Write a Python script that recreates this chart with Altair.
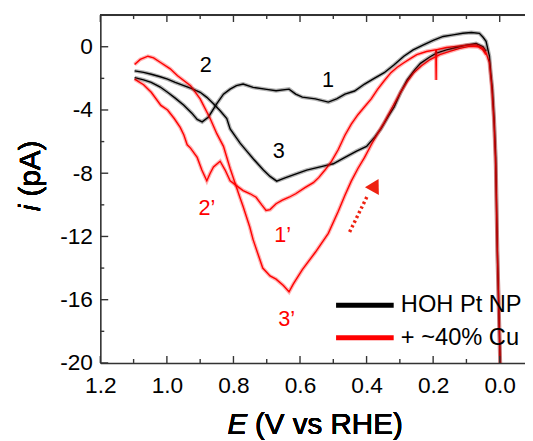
import altair as alt
import pandas as pd

# ---------------- data ----------------
SERIES = ["HOH Pt NP", "+ ~40% Cu"]
COLORS = ["#000000", "#ff0000"]

# black loop, branch through minimum "3"
blk_a_E = [1.097, 1.07, 1.047, 1.02, 0.998, 0.975, 0.949, 0.925, 0.90, 0.88, 0.86, 0.84, 0.82, 0.81, 0.78, 0.76,
           0.74, 0.71, 0.69, 0.67, 0.645, 0.62, 0.58, 0.53, 0.50, 0.465, 0.43, 0.40, 0.375, 0.357, 0.335,
           0.317, 0.298, 0.278, 0.255, 0.238, 0.21, 0.19, 0.16, 0.13, 0.10, 0.071, 0.05, 0.041]
blk_a_I = [-1.53, -1.62, -1.74, -1.9, -2.05, -2.25, -2.46, -2.65, -2.88, -3.2, -3.6, -4.05, -4.54, -5.2, -6.1, -6.6,
           -7.1, -7.8, -8.2, -8.5, -8.3, -8.1, -7.8, -7.55, -7.4, -7.0, -6.6, -6.3, -5.7, -5.2, -4.4,
           -3.8, -2.9, -2.1, -1.45, -1.05, -0.65, -0.4, -0.2, -0.05, 0.1, 0.2, 0.0, -0.3]

# black loop, branch through dip "2" and plateau "1", ending in the cathodic drop
blk_b_E = [1.097, 1.07, 1.047, 1.02, 0.998, 0.975, 0.949, 0.925, 0.909, 0.894, 0.875, 0.85, 0.83, 0.81, 0.791,
           0.771, 0.741, 0.70, 0.672, 0.633, 0.613, 0.593, 0.554, 0.515, 0.49, 0.465, 0.436, 0.406, 0.377,
           0.347, 0.318, 0.288, 0.26, 0.229, 0.20, 0.17, 0.14, 0.111, 0.085, 0.061, 0.05, 0.041, 0.031,
           0.027, 0.022, 0.017, 0.012, 0.007, -0.002]
blk_b_I = [-1.95, -2.1, -2.26, -2.55, -2.88, -3.25, -3.7, -4.2, -4.6, -4.75, -4.44, -3.6, -3.0, -2.68, -2.46,
           -2.36, -2.57, -2.7, -2.78, -2.68, -3.0, -3.19, -3.3, -3.5, -3.3, -3.0, -2.8, -2.36, -2.0,
           -1.64, -1.15, -0.6, -0.2, 0.12, 0.4, 0.65, 0.75, 0.85, 0.9, 0.85, 0.6, 0.34, -0.6,
           -1.64, -2.68, -4.5, -7.0, -13.0, -20.5]

# red loop, branch through minimum "3'"
red_c_E = [1.097, 1.08, 1.057, 1.04, 1.018, 0.99, 0.968, 0.929, 0.90, 0.87, 0.85, 0.83, 0.81, 0.781, 0.771,
           0.751, 0.741, 0.712, 0.69, 0.672, 0.65, 0.633, 0.62, 0.593, 0.554, 0.515, 0.485, 0.465, 0.446,
           0.426, 0.406, 0.386, 0.367, 0.347, 0.327, 0.298, 0.278, 0.258, 0.235, 0.209, 0.18, 0.15, 0.12,
           0.09, 0.065, 0.051, 0.041]
red_c_I = [-1.12, -0.8, -0.6, -0.7, -1.01, -1.4, -1.84, -2.46, -3.3, -4.54, -5.5, -6.3, -7.7, -9.5, -10.1,
           -11.4, -12.2, -14.0, -14.5, -14.7, -15.1, -15.5, -15.0, -14.1, -13.0, -11.8, -10.4, -9.4, -8.5,
           -7.7, -7.0, -6.2, -5.5, -4.8, -4.0, -2.88, -2.2, -1.64, -1.2, -0.81, -0.5, -0.29, -0.1,
           0.02, 0.0, -0.19, -0.5]

# red loop, branch through "2'" and "1'", ending in the cathodic drop
red_d_E = [1.097, 1.07, 1.047, 1.018, 0.998, 0.978, 0.96, 0.949, 0.939, 0.929, 0.909, 0.895, 0.88, 0.87,
           0.86, 0.84, 0.825, 0.81, 0.79, 0.771, 0.75, 0.732, 0.715, 0.702, 0.69, 0.672, 0.653, 0.633,
           0.613, 0.584, 0.56, 0.544, 0.525, 0.505, 0.485, 0.465, 0.446, 0.426, 0.406, 0.386, 0.367,
           0.347, 0.327, 0.308, 0.288, 0.265, 0.249, 0.22, 0.192, 0.191, 0.190, 0.16, 0.13, 0.10, 0.071,
           0.05, 0.041, 0.031, 0.024, 0.017, 0.012, 0.007, -0.002]
red_d_I = [-2.05, -2.4, -2.88, -3.71, -4.0, -4.54, -5.1, -5.58, -6.2, -6.41, -7.0, -7.8, -8.48, -8.0,
           -7.6, -7.24, -7.8, -8.48, -8.8, -9.1, -9.3, -9.52, -10.0, -10.35, -10.3, -9.93, -9.7, -9.52,
           -9.3, -8.9, -8.6, -8.28, -7.8, -7.24, -6.5, -5.6, -4.9, -4.3, -3.8, -3.3, -2.7,
           -2.15, -1.64, -1.3, -1.01, -0.7, -0.5, -0.3, -0.2, -2.1, -0.2, -0.05, 0.02, 0.1, 0.12,
           -0.1, -0.4, -1.0, -2.5, -4.8, -7.5, -13.0, -20.5]

# peak labels
lab_text = ["1", "2", "3", "2\u2019", "1\u2019", "3\u2019"]
lab_E = [0.516, 0.883, 0.664, 0.88, 0.652, 0.64]
lab_I = [-2.13, -1.14, -6.6, -10.2, -11.9, -17.2]
lab_series = ["HOH Pt NP", "HOH Pt NP", "HOH Pt NP", "+ ~40% Cu", "+ ~40% Cu", "+ ~40% Cu"]

# scan-direction arrow
arrow_E = [0.451, 0.398]
arrow_I = [-11.72, -9.45]
head_E = [0.374]
head_I = [-8.75]

# axis ticks
x_major = [1.2, 1.0, 0.8, 0.6, 0.4, 0.2, 0.0]
x_minor = [1.1, 0.9, 0.7, 0.5, 0.3, 0.1]
y_major = [0, -4, -8, -12, -16, -20]
y_minor = [2, -2, -6, -10, -14, -18]

# ---------------- build tables ----------------
rows = []
for series, branch, Es, Is in [
    (SERIES[0], "a", blk_a_E, blk_a_I),
    (SERIES[0], "b", blk_b_E, blk_b_I),
    (SERIES[1], "c", red_c_E, red_c_I),
    (SERIES[1], "d", red_d_E, red_d_I),
]:
    for k, (e, i) in enumerate(zip(Es, Is)):
        rows.append({"series": series, "branch": branch, "idx": k, "E": e, "I": i})
cv = pd.DataFrame(rows)

labels = pd.DataFrame({"t": lab_text, "E": lab_E, "I": lab_I, "series": lab_series})
arrow = pd.DataFrame({"E": arrow_E, "I": arrow_I})
head = pd.DataFrame({"E": head_E, "I": head_I})
xmaj = pd.DataFrame({"E": x_major})
xmin = pd.DataFrame({"E": x_minor})
ymaj = pd.DataFrame({"I": y_major})
ymin = pd.DataFrame({"I": y_minor})

W, H = 431, 353
FONT = "Liberation Sans"

xscale = alt.Scale(domain=[1.2, -0.076], nice=False, zero=False)
yscale = alt.Scale(domain=[-20, 2], nice=False, zero=False)
cscale = alt.Scale(domain=SERIES, range=COLORS)

x_axis = alt.Axis(values=x_major, labelExpr="format(datum.value, '.1f')", labelFontSize=23,
                  labelPadding=12, ticks=False, labelFlush=False, labelOverlap=False,
                  grid=False, domain=True, domainColor="#333333", domainWidth=1.6,
                  labelColor="#000000", title=None, labelFont=FONT)
y_axis = alt.Axis(values=y_major,
                  labelExpr="datum.value < 0 ? '-' + format(-datum.value, 'd') : format(datum.value, 'd')",
                  labelFontSize=23, labelPadding=8, ticks=False, labelFlush=False, labelOverlap=False,
                  grid=False, domain=True, domainColor="#333333", domainWidth=1.6,
                  labelColor="#000000", title=None, labelFont=FONT)

X = alt.X("E:Q", scale=xscale, axis=x_axis)
Y = alt.Y("I:Q", scale=yscale, axis=y_axis)

legend = alt.Legend(
    title=None, orient="none", legendX=256, legendY=282, symbolType="M-3,0H3",
    symbolSize=380, symbolStrokeWidth=5, symbolOpacity=1, labelFontSize=24,
    labelOffset=24, rowPadding=8, padding=0, labelFont=FONT, labelColor="#000000")

base = alt.Chart(cv)

lines = base.mark_line(strokeWidth=1.4, clip=True).encode(
    x=X, y=Y,
    color=alt.Color("series:N", scale=cscale, legend=legend),
    detail="branch:N", order="idx:Q",
)

fuzz = base.mark_line(strokeWidth=4, opacity=0.3, clip=True).encode(
    x=X, y=Y,
    color=alt.Color("series:N", scale=cscale, legend=legend),
    detail="branch:N", order="idx:Q",
)

text = alt.Chart(labels).mark_text(fontSize=22, font=FONT, align="center", baseline="middle").encode(
    x=alt.X("E:Q", scale=xscale), y=alt.Y("I:Q", scale=yscale),
    text="t:N", color=alt.Color("series:N", scale=cscale, legend=legend),
)

arrow_line = alt.Chart(arrow).mark_line(color="#ee2211", strokeWidth=3.5, strokeDash=[2.5, 2.8]).encode(
    x=alt.X("E:Q", scale=xscale), y=alt.Y("I:Q", scale=yscale),
)
arrow_head = alt.Chart(head).mark_point(shape="triangle-up", filled=True, color="#ee2211", size=260,
                                        angle=29, opacity=1).encode(
    x=alt.X("E:Q", scale=xscale), y=alt.Y("I:Q", scale=yscale),
)

tick_style = dict(color="#333333", strokeWidth=1.4)
xt_bot_maj = alt.Chart(xmaj).mark_rule(**tick_style).encode(
    x=alt.X("E:Q", scale=xscale), y=alt.value(H), y2=alt.value(H - 7))
xt_bot_min = alt.Chart(xmin).mark_rule(**tick_style).encode(
    x=alt.X("E:Q", scale=xscale), y=alt.value(H), y2=alt.value(H - 4))
xt_top_maj = alt.Chart(xmaj).mark_rule(**tick_style).encode(
    x=alt.X("E:Q", scale=xscale), y=alt.value(0), y2=alt.value(7))
xt_top_min = alt.Chart(xmin).mark_rule(**tick_style).encode(
    x=alt.X("E:Q", scale=xscale), y=alt.value(0), y2=alt.value(4))
yt_maj = alt.Chart(ymaj).mark_rule(**tick_style).encode(
    y=alt.Y("I:Q", scale=yscale), x=alt.value(0), x2=alt.value(8))
yt_min = alt.Chart(ymin).mark_rule(**tick_style).encode(
    y=alt.Y("I:Q", scale=yscale), x=alt.value(0), x2=alt.value(4))
top_frame = alt.Chart(xmaj).mark_rule(color="#333333", strokeWidth=1.6).encode(
    x=alt.value(0), x2=alt.value(W + 2), y=alt.value(0))

# axis titles with italic symbols
xt_E = alt.Chart(xmaj).mark_text(text="E", font=FONT, fontSize=30, fontStyle="italic", align="left",
                                 baseline="alphabetic").encode(x=alt.value(129), y=alt.value(425))
xt_rest = alt.Chart(xmaj).mark_text(text="(V vs RHE)", font=FONT, fontSize=30, align="left",
                                    baseline="alphabetic").encode(x=alt.value(157), y=alt.value(425))
yt_i = alt.Chart(xmaj).mark_text(text="i", font=FONT, fontSize=30, fontStyle="italic", align="left",
                                 baseline="alphabetic", angle=270).encode(x=alt.value(-61), y=alt.value(199))
yt_rest = alt.Chart(xmaj).mark_text(text="(pA)", font=FONT, fontSize=30, align="left",
                                    baseline="alphabetic", angle=270).encode(x=alt.value(-61), y=alt.value(184))

chart = alt.layer(
    lines, fuzz, text, arrow_line, arrow_head,
    xt_bot_maj, xt_bot_min, xt_top_maj, xt_top_min, yt_maj, yt_min, top_frame,
    xt_E, xt_rest, yt_i, yt_rest,
).properties(
    width=W, height=H,
    autosize=alt.AutoSizeParams(type="none"),
    padding={"left": 93.7, "top": 4, "right": 0, "bottom": 76},
).configure_view(stroke=None).configure(font=FONT)

chart.save("out.html", embed_options={"renderer": "svg", "actions": False})
